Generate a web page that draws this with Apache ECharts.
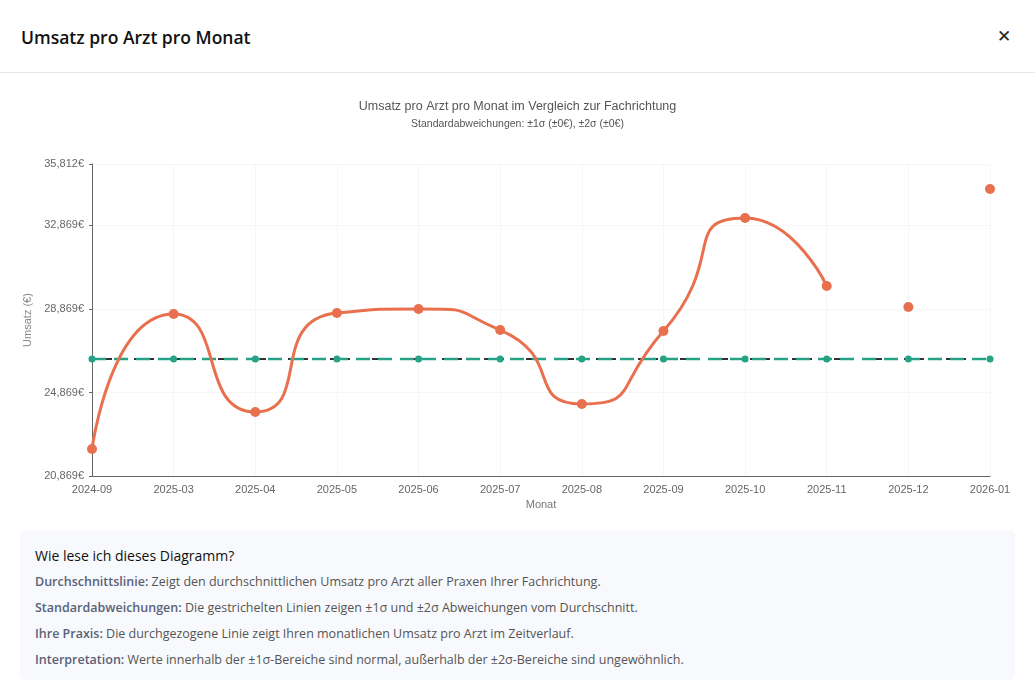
<!DOCTYPE html>
<html>
<head>
    <meta charset="utf-8" />
    <title>Umsatz pro Arzt pro Monat</title>
    <script src="https://cdn.jsdelivr.net/npm/echarts@6/dist/echarts.min.js"></script>
    <style type="text/css">
        body { margin: 0; padding: 0; background: #fff; font-family: "Open Sans", "Noto Sans", sans-serif; overflow: hidden; }
        .head { height: 72px; border-bottom: 1px solid #e5e7eb; position: relative; }
        .head h2 { margin: 0; position: absolute; left: 21px; top: 25px; font-size: 17.5px; font-weight: 600; color: #111; }
        .head .close { position: absolute; right: 24px; top: 24px; font-size: 17px; color: #222; }
        #main { position: absolute; left: 0; top: 73px; width: 1035px; height: 450px; }
        .info { position: absolute; left: 20px; top: 530px; width: 980px; height: 150px; background: #f7f9fc; border-radius: 6px; padding: 0 0 0 15px; color: #555; font-size: 12.5px; }
        .info h4 { margin: 16px 0 9px 0; font-size: 14px; font-weight: 400; color: #111; }
        .info p { margin: 0 0 10px 0; line-height: 16px; }
        .info b { color: #5a6278; font-weight: 600; }
    </style>
</head>
<body>
    <div class="head"><h2>Umsatz pro Arzt pro Monat</h2><span class="close">✕</span></div>
    <div id="main"></div>
    <div class="info">
        <h4>Wie lese ich dieses Diagramm?</h4>
        <p><b>Durchschnittslinie:</b> Zeigt den durchschnittlichen Umsatz pro Arzt aller Praxen Ihrer Fachrichtung.</p>
        <p><b>Standardabweichungen:</b> Die gestrichelten Linien zeigen ±1σ und ±2σ Abweichungen vom Durchschnitt.</p>
        <p><b>Ihre Praxis:</b> Die durchgezogene Linie zeigt Ihren monatlichen Umsatz pro Arzt im Zeitverlauf.</p>
        <p><b>Interpretation:</b> Werte innerhalb der ±1σ-Bereiche sind normal, außerhalb der ±2σ-Bereiche sind ungewöhnlich.</p>
    </div>
    <script type="text/javascript">
        var myChart = echarts.init(document.getElementById('main'));
        var months = ['2024-09', '2025-03', '2025-04', '2025-05', '2025-06', '2025-07', '2025-08', '2025-09', '2025-10', '2025-11', '2025-12', '2026-01'];
        // Umsatz der Praxis, die letzten zwei Monate nur als Punkte
        var praxis = [22162, 28628, 23934, 28676, 28867, 27861, 24317, 27813, 33225, 29969, null, null];
        var praxisLast = [null, null, null, null, null, null, null, null, null, null, 28963, 34614];
        var avg = 26472;
        var avgData = months.map(() => avg);
        var sigma = 0;
        function sigmaLine(name, k) {
            return {
                name: name, type: 'line', data: months.map(() => avg + k * sigma),
                symbol: 'none', silent: true,
                lineStyle: { type: [6, 8], width: 1.5, color: '#333' }, z: 3
            };
        }
        var options = {
            animation: false,
            title: {
                text: 'Umsatz pro Arzt pro Monat im Vergleich zur Fachrichtung',
                subtext: 'Standardabweichungen: ±1σ (±0€), ±2σ (±0€)',
                left: 'center', top: 22, itemGap: 6,
                textStyle: { fontSize: 12.5, fontWeight: 'normal', color: '#555' },
                subtextStyle: { fontSize: 10.5, color: '#555' }
            },
            grid: { left: 92, right: 45, top: 91, bottom: 47 },
            xAxis: {
                type: 'category', data: months, boundaryGap: false,
                name: 'Monat', nameLocation: 'middle', nameGap: 22,
                nameTextStyle: { color: '#777', fontSize: 11 },
                axisLine: { lineStyle: { color: '#666' } },
                axisTick: { show: false },
                axisLabel: { color: '#666', fontSize: 11 },
                splitLine: { show: true, lineStyle: { color: '#f6f6f6' } }
            },
            yAxis: {
                type: 'value', min: 20869, max: 35812, interval: 4000,
                name: 'Umsatz (€)', nameLocation: 'middle', nameGap: 48,
                nameTextStyle: { color: '#888', fontSize: 11 },
                axisLine: { show: true, lineStyle: { color: '#666' } },
                axisTick: { show: true, length: 3 },
                axisLabel: { color: '#666', fontSize: 11, showMaxLabel: true, formatter: v => v.toLocaleString('en-US') + '€' },
                splitLine: { lineStyle: { color: '#f6f6f6' } }
            },
            series: [
                sigmaLine('+2σ', 2), sigmaLine('-2σ', -2), sigmaLine('+1σ', 1), sigmaLine('-1σ', -1),
                {
                    name: 'Durchschnitt', type: 'line', data: avgData,
                    symbol: 'circle', symbolSize: 7, itemStyle: { color: '#26a387' },
                    lineStyle: { type: [14, 8], width: 2.5, color: '#26a387' }, z: 4
                },
                {
                    name: 'Ihre Praxis', type: 'line', data: praxis, smooth: 0.7,
                    symbol: 'circle', symbolSize: 10, itemStyle: { color: '#e8704f' },
                    lineStyle: { width: 3, color: '#e8704f' }, z: 5
                },
                {
                    name: 'Ihre Praxis ', type: 'scatter', data: praxisLast,
                    symbolSize: 10, itemStyle: { color: '#e8704f', opacity: 1 }, z: 5
                }
            ]
        };
        myChart.setOption(options);
    </script>
</body>
</html>
